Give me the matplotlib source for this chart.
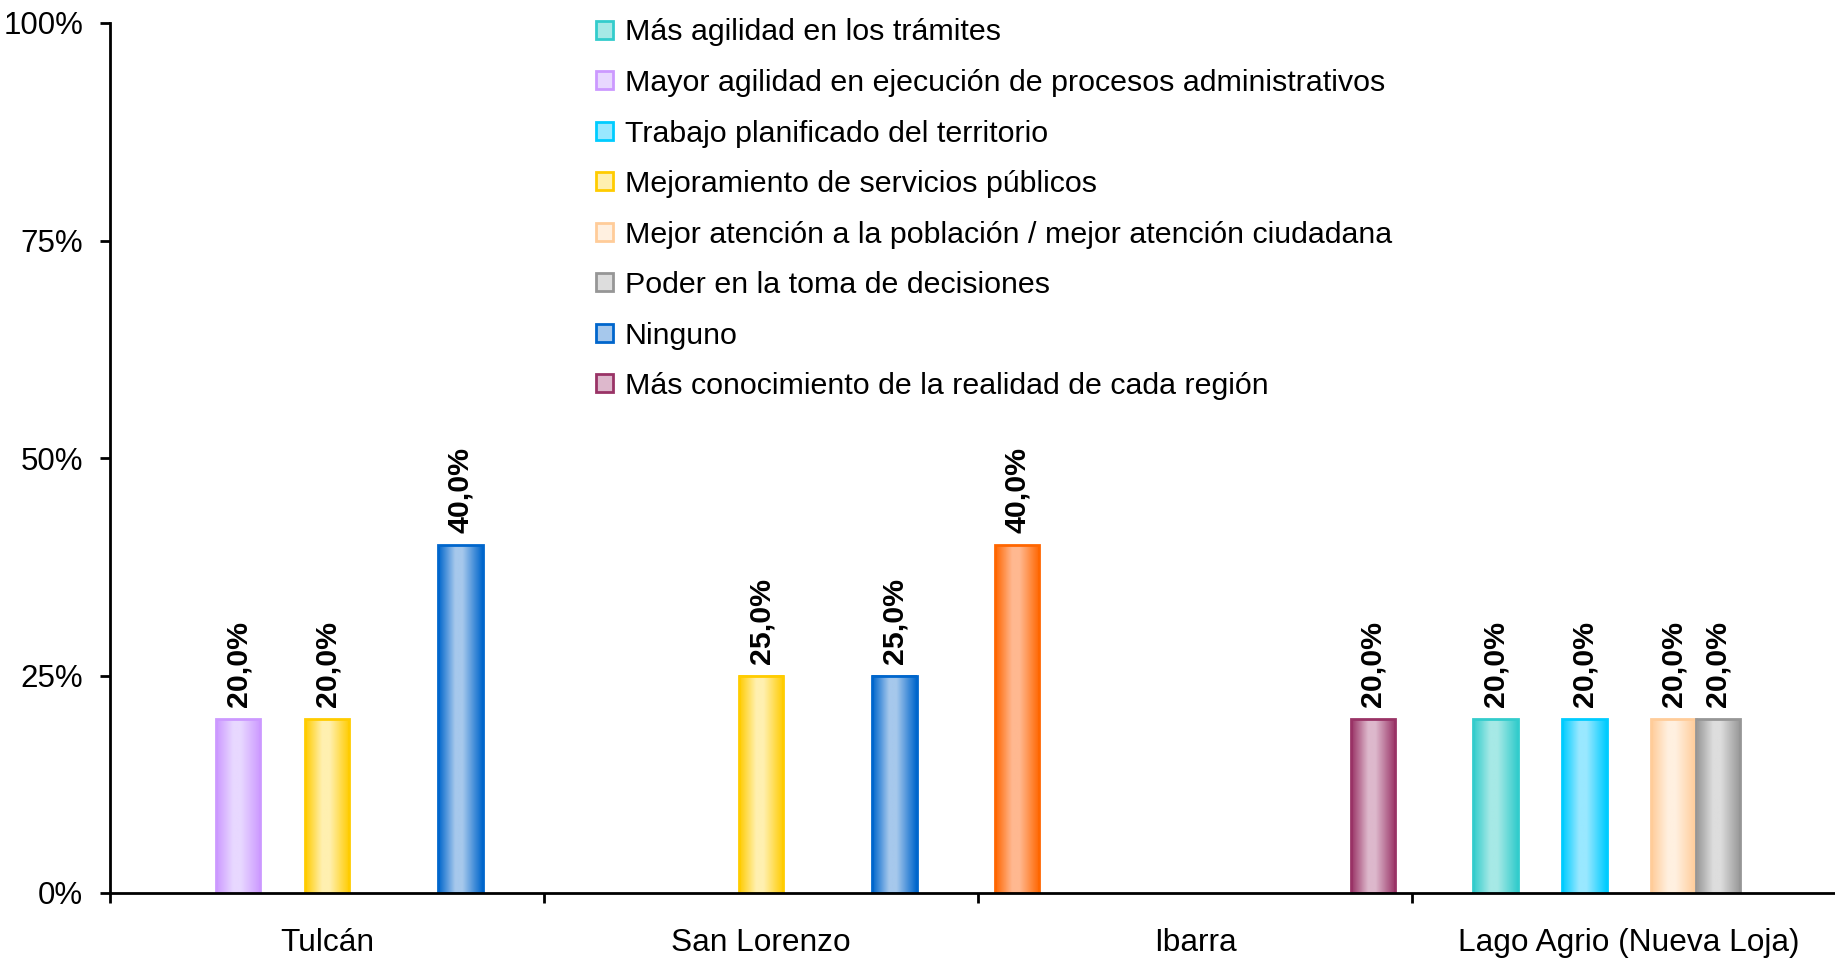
import numpy as np
import matplotlib
matplotlib.use('Agg')
import matplotlib.pyplot as plt
from matplotlib.colors import LinearSegmentedColormap
from matplotlib.patches import Patch

plt.rcParams['font.family'] = ['Liberation Sans', 'DejaVu Sans']

# data
categories = ['Tulcán', 'San Lorenzo', 'Ibarra', 'Lago Agrio (Nueva Loja)']

series_names = [
    'Otro',  # no legend entry in the original
    'Más agilidad en los trámites',
    'Mayor agilidad en ejecución de procesos administrativos',
    'Trabajo planificado del territorio',
    'Mejoramiento de servicios públicos',
    'Mejor atención a la población / mejor atención ciudadana',
    'Poder en la toma de decisiones',
    'Ninguno',
    'Más conocimiento de la realidad de cada región',
]

otro = [0, 0, 0.40, 0]
mas_agilidad = [0, 0, 0, 0.20]
mayor_agilidad = [0.20, 0, 0, 0]
trabajo_planificado = [0, 0, 0, 0.20]
mejoramiento = [0.20, 0.25, 0, 0]
mejor_atencion = [0, 0, 0, 0.20]
poder = [0, 0, 0, 0.20]
ninguno = [0.40, 0.25, 0, 0]
mas_conocimiento = [0, 0, 0.20, 0]

series_values = [otro, mas_agilidad, mayor_agilidad, trabajo_planificado,
                 mejoramiento, mejor_atencion, poder, ninguno, mas_conocimiento]

in_legend = [False] + [True] * 8

# colours: saturated edge and light centre of the gradient
edge_colors = ['#FF6600', '#33CCCC', '#CC99FF', '#00CCFF', '#FFCC00',
               '#FFCC99', '#969696', '#0066CC', '#993366']
light_colors = ['#FFB890', '#A6E9E6', '#E8D8FF', '#99E8FF', '#FFF0B0',
                '#FFF0E0', '#DDDDDD', '#A6C8EC', '#DDB8CC']

fig = plt.figure(figsize=(18.35, 9.6), dpi=100)
ax = fig.add_axes([110 / 1835, 1 - 893 / 960, 1736 / 1835, 870 / 960])

x = np.arange(len(categories))
n = len(series_values)
slot = 0.1024
grad = np.linspace(0, 1, 64).reshape(1, -1)

for i, vals in enumerate(series_values):
    vals = np.array(vals, dtype=float)
    mask = vals > 0
    offset = (i - (n - 1) / 2) * slot
    bars = ax.bar(x[mask] + offset, vals[mask], width=slot, facecolor='none',
                  edgecolor=edge_colors[i], linewidth=2, zorder=3)
    cmap = LinearSegmentedColormap.from_list(
        'g%d' % i,
        [(0, edge_colors[i]), (0.38, light_colors[i]), (0.55, light_colors[i]),
         (1, edge_colors[i])])
    for b in bars:
        x0, w, h = b.get_x(), b.get_width(), b.get_height()
        ax.imshow(grad, cmap=cmap, extent=(x0, x0 + w, 0, h), aspect='auto',
                  interpolation='bilinear', zorder=2)
        label = ('%.1f%%' % (h * 100)).replace('.', ',')
        ax.annotate(label, (x0 + w / 2, h),
                    xytext=(0, 8.5), textcoords='offset points',
                    rotation=90, ha='center', va='bottom',
                    fontsize=21.8, fontweight='bold')

ax.set_xlim(-0.5, len(categories) - 0.5)
ax.set_ylim(0, 1)

ax.set_xticks(x)
ax.set_xticklabels(categories)
ax.set_xticks(np.arange(-0.5, len(categories), 1), minor=True)
ax.tick_params(axis='x', which='major', length=0, pad=25, labelsize=22.8)
ax.tick_params(axis='x', which='minor', length=7.2, width=2, direction='out')

ax.set_yticks([0, 0.25, 0.5, 0.75, 1])
ax.set_yticklabels(['0%', '25%', '50%', '75%', '100%'])
ax.tick_params(axis='y', length=7.2, width=2, direction='out', pad=12,
               labelsize=22.5)

for s in ['top', 'right']:
    ax.spines[s].set_visible(False)
for s in ['left', 'bottom']:
    ax.spines[s].set_linewidth(2)
    ax.spines[s].set_zorder(4)

handles = []
labels = []
for i in range(n):
    if in_legend[i]:
        handles.append(Patch(facecolor=light_colors[i],
                             edgecolor=edge_colors[i], linewidth=2))
        labels.append(series_names[i])

fig.legend(handles, labels, loc='upper left',
           bbox_to_anchor=(596 / 1835, 1 - 18.5 / 960), frameon=False,
           fontsize=21.9, labelspacing=0.74, handlelength=0.55,
           handleheight=0.55, handletextpad=0.4, borderpad=0,
           borderaxespad=0)

fig.savefig('out.png', dpi=100, facecolor='white')
